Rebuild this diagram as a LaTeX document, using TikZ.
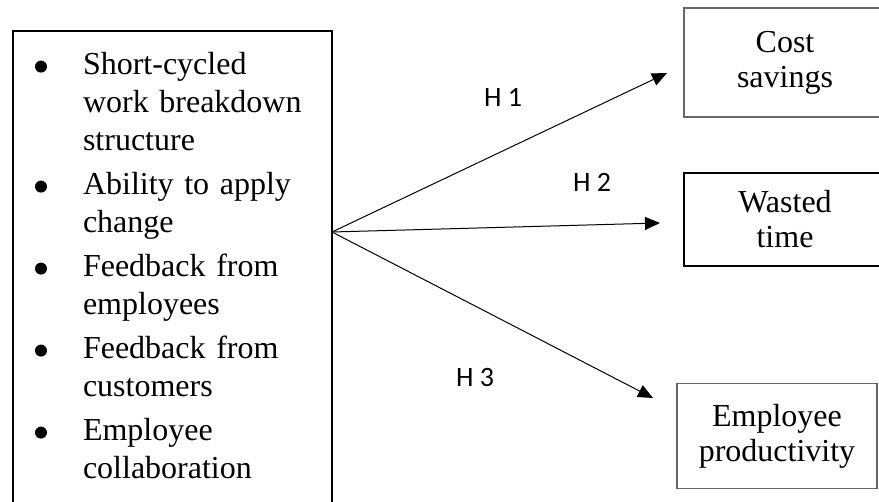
\documentclass[tikz,border=0pt]{standalone}
\usepackage{fontspec}
\setmainfont{Liberation Serif}
\newfontfamily\labelfont{Carlito}
\usetikzlibrary{arrows.meta}

\newcommand\dotbullet{\tikz[x=1pt,y=1pt,baseline={(0pt,-8pt)}]\fill (0pt,0pt) circle[radius=6pt];}

\begin{document}
\begin{tikzpicture}[
    x=1pt,
    y=-1pt,
    every node/.style={font=\fontsize{32}{35}\selectfont, outer sep=0pt},
    factorbox/.style={draw, line width=2.4pt, anchor=north west, inner xsep=22pt, inner ysep=17pt, text width=275pt, align=left, font=\fontsize{32}{38}\selectfont},
    outcome/.style={draw, line width=1.8pt, align=center, inner sep=0pt},
    greyoutcome/.style={outcome, draw=black!60, line width=1.5pt},
    hyp/.style={font=\labelfont\fontsize{28}{30}\selectfont},
    arrow/.style={-{Triangle[length=15pt,width=13pt]}, line width=1pt}
]
\useasboundingbox (0,0) rectangle (879,502);
\clip (0,0) rectangle (879,502);

% Agile factors
\node[factorbox] (factors) at (13,31) {%
\begin{tabular}{@{}p{48pt}@{}l@{}}
\dotbullet & Short-cycled\\
 & work breakdown\\
 & structure\\[6pt]
\dotbullet & Ability to apply\\
 & change\\[6pt]
\dotbullet & Feedback from\\
 & employees\\[6pt]
\dotbullet & Feedback from\\
 & customers\\[6pt]
\dotbullet & Employee\\
 & collaboration
\end{tabular}};

% Outcomes
\node[greyoutcome, minimum width=202pt, minimum height=109pt] (cost) at (785,62.5) {Cost\\savings};
\node[outcome, minimum width=202pt, minimum height=93pt] (wasted) at (785,219.5) {Wasted\\time};
\node[greyoutcome, minimum width=200pt, minimum height=105pt] (productivity) at (777,436) {Employee\\productivity};

% Hypotheses
\coordinate (hub) at (332,232);
\coordinate (costtip) at (667,73);
\coordinate (wastedtip) at (660,223);
\coordinate (productivitytip) at (653,398);

\draw[arrow] (hub) -- (costtip);
\draw[arrow] (hub) -- (wastedtip);
\draw[arrow] (hub) -- (productivitytip);

\node[hyp] (h1) at (503,97) {H 1};
\node[hyp] (h2) at (592,182) {H 2};
\node[hyp] (h3) at (475,378) {H 3};

\end{tikzpicture}
\end{document}
